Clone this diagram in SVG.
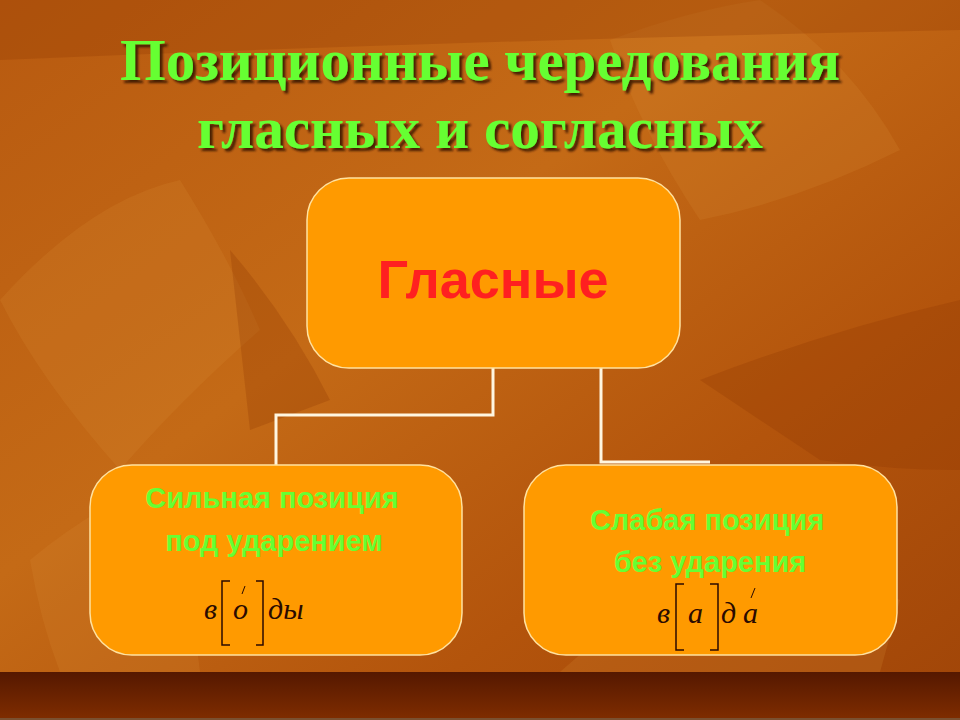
<svg xmlns="http://www.w3.org/2000/svg" width="960" height="720" viewBox="0 0 960 720">
<defs>
<linearGradient id="bg" x1="0" y1="0" x2="1" y2="1">
<stop offset="0" stop-color="#B85A10"/>
<stop offset="0.4" stop-color="#C46A16"/>
<stop offset="0.7" stop-color="#B3540C"/>
<stop offset="1" stop-color="#A04508"/>
</linearGradient>
<linearGradient id="band" x1="0" y1="0" x2="0" y2="1">
<stop offset="0" stop-color="#551800"/>
<stop offset="1" stop-color="#7E2C00"/>
</linearGradient>
<filter id="sh" x="-5%" y="-5%" width="110%" height="120%">
<feDropShadow dx="3" dy="3" stdDeviation="1" flood-color="#3A1200" flood-opacity="0.9"/>
</filter>
<style>
.box{fill:#FF9A00;stroke:#FFE2A0;stroke-width:1.5}
.title{font-family:"Liberation Serif","Times New Roman",serif;font-weight:bold;font-size:60px;fill:#66FF33}
.sub{font-family:"Liberation Sans",Arial,sans-serif;font-weight:bold;font-size:29px;fill:#66FF33;text-anchor:middle}
.f{font-family:"Liberation Serif","Times New Roman",serif;font-style:italic;font-size:30px;fill:#2A0A00}
.br{fill:none;stroke:#2A0A00;stroke-width:1.5}
.conn{fill:none;stroke:#FFF6E0;stroke-width:3}
.leaf{fill:#D88A30;opacity:0.22}
.leafd{fill:#8A3500;opacity:0.25}
</style>
</defs>
<rect x="0" y="0" width="960" height="720" fill="url(#bg)"/>
<g id="background-leaves">
<path class="leaf" d="M0 300 Q90 200 180 180 Q230 260 260 330 Q180 400 120 470 Q40 380 0 300 Z"/>
<path class="leaf" d="M610 40 Q690 10 760 0 Q850 60 900 150 Q800 200 700 220 Q640 130 610 40 Z"/>
<path class="leafd" d="M700 380 Q830 330 960 300 L960 470 Q890 470 820 460 Q760 420 700 380 Z"/>
<path class="leaf" d="M30 560 Q90 510 160 480 Q190 580 200 672 L60 672 Q40 620 30 560 Z"/>
<path class="leaf" d="M560 672 Q640 600 720 560 Q820 570 900 600 L880 672 Z"/>
<path class="leafd" d="M0 0 L960 0 L960 30 Q480 40 0 60 Z"/>
<path class="leafd" d="M230 250 Q290 320 330 400 L250 430 Q240 340 230 250 Z"/>
</g>
<rect x="0" y="672" width="960" height="46" fill="url(#band)"/>
<rect x="0" y="718" width="960" height="2" fill="#7A5030"/>
<g id="title" filter="url(#sh)">
<text class="title" x="480" y="80" text-anchor="middle" textLength="720" lengthAdjust="spacingAndGlyphs">Позиционные чередования</text>
<text class="title" x="480" y="148" text-anchor="middle" textLength="566" lengthAdjust="spacingAndGlyphs">гласных и согласных</text>
</g>
<g id="connectors">
<polyline class="conn" points="493,368 493,415 276,415 276,465"/>
<polyline class="conn" points="601,368 601,462 710,462"/>
</g>
<g id="node-glasnye">
<rect class="box" x="307" y="178" width="373" height="190" rx="42"/>
<text x="493" y="298" text-anchor="middle" font-family="'Liberation Sans',Arial,sans-serif" font-weight="bold" font-size="54" fill="#FF2020">Гласные</text>
</g>
<g id="node-strong">
<rect class="box" x="90" y="465" width="372" height="190" rx="42"/>
<text class="sub" x="272" y="508">Сильная позиция</text>
<text class="sub" x="274" y="551">под ударением</text>
<text class="f" x="204" y="619">в</text>
<path class="br" d="M230 581 L222 581 L222 645 L230 645"/>
<path class="br" d="M256 581 L263 581 L263 645 L256 645"/>
<text class="f" x="233" y="619">о</text>
<line x1="242" y1="594" x2="245" y2="586" stroke="#2A0A00" stroke-width="1"/>
<text class="f" x="268" y="619">ды</text>
</g>
<g id="node-weak">
<rect class="box" x="524" y="465" width="373" height="190" rx="42"/>
<text class="sub" x="707" y="530">Слабая позиция</text>
<text class="sub" x="710" y="572">без ударения</text>
<text class="f" x="657" y="623">в</text>
<path class="br" d="M684 584 L676 584 L676 650 L684 650"/>
<path class="br" d="M710 584 L718 584 L718 650 L710 650"/>
<text class="f" x="688" y="623">а</text>
<text class="f" x="721" y="623">д</text>
<text class="f" x="743" y="623">а</text>
<line x1="751" y1="598" x2="755" y2="588" stroke="#2A0A00" stroke-width="1"/>
</g>
</svg>
